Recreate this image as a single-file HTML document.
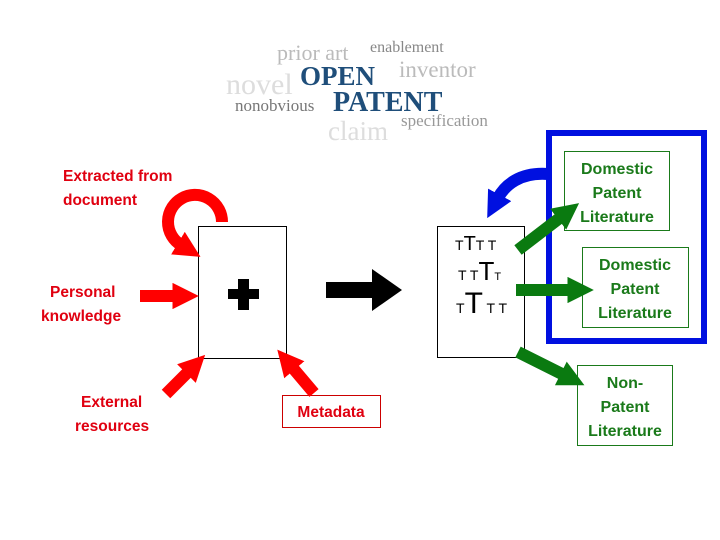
<!DOCTYPE html>
<html><head><style>body{margin:0;background:#fff}svg{display:block}</style></head><body>
<svg width="720" height="540" viewBox="0 0 720 540" xmlns="http://www.w3.org/2000/svg">
<defs>
<marker id="rh" markerWidth="2.2" markerHeight="2.2" refX="0.3" refY="1.1" orient="auto"><path d="M0,0L2.2,1.1L0,2.2z" fill="#f00"/></marker>
<marker id="gh" markerWidth="2.2" markerHeight="2.2" refX="0.3" refY="1.1" orient="auto"><path d="M0,0L2.2,1.1L0,2.2z" fill="#0a7a10"/></marker>
<marker id="bh" markerWidth="2.2" markerHeight="2.2" refX="0.3" refY="1.1" orient="auto"><path d="M0,0L2.2,1.1L0,2.2z" fill="#0010e0"/></marker>
</defs>
<g font-family="Liberation Serif, serif">
<text x="277" y="60" font-size="22" fill="#bbb">prior art</text>
<text x="370" y="52" font-size="16" fill="#888">enablement</text>
<text x="226" y="94" font-size="30" fill="#ddd">novel</text>
<text x="300" y="85" font-size="27" font-weight="bold" fill="#1f4e7a">OPEN</text>
<text x="399" y="77" font-size="23" fill="#bbb">inventor</text>
<text x="235" y="111" font-size="17" fill="#777">nonobvious</text>
<text x="333" y="111" font-size="28" font-weight="bold" fill="#1f4e7a">PATENT</text>
<text x="328" y="140" font-size="27" fill="#ddd">claim</text>
<text x="401" y="126" font-size="17" fill="#999">specification</text>
</g>
<rect x="198.5" y="226.5" width="88" height="132" fill="#fff" stroke="#000"/>
<rect x="437.5" y="226.5" width="87" height="131" fill="#fff" stroke="#000"/>
<rect x="549" y="133" width="155" height="208" fill="none" stroke="#0010e0" stroke-width="6"/>
<g fill="#fff" stroke="#1a7a1a">
<rect x="564.5" y="151.5" width="105" height="79"/>
<rect x="582.5" y="247.5" width="106" height="80"/>
<rect x="577.5" y="365.5" width="95" height="80"/>
<rect x="282.5" y="395.5" width="98" height="32" stroke="#c00"/>
</g>
<g font-family="Liberation Sans, sans-serif" font-weight="bold" font-size="16" fill="#1a7a1a" text-anchor="middle">
<text x="617" y="174">Domestic</text><text x="617" y="198">Patent</text><text x="617" y="222">Literature</text>
<text x="635" y="270">Domestic</text><text x="635" y="294">Patent</text><text x="635" y="318">Literature</text>
<text x="625" y="388">Non-</text><text x="625" y="412">Patent</text><text x="625" y="436">Literature</text>
</g>
<g font-family="Liberation Sans, sans-serif" font-size="15.5" font-weight="bold" fill="#e00010">
<text x="63" y="181">Extracted from</text><text x="63" y="205">document</text>
<text x="50" y="297">Personal</text><text x="41" y="321">knowledge</text>
<text x="81" y="407">External</text><text x="75" y="431">resources</text>
<text x="331" y="417" text-anchor="middle">Metadata</text>
</g>
<g font-family="Liberation Sans, sans-serif" fill="#000">
<text x="455" y="250" font-size="14">T<tspan font-size="20">T</tspan>T T</text>
<text x="458" y="280" font-size="14">T T<tspan font-size="26">T</tspan><tspan font-size="11">T</tspan></text>
<text x="456" y="313" font-size="14">T<tspan font-size="30">T</tspan> T T</text>
</g>
<rect x="228" y="289" width="31" height="10"/><rect x="238" y="279" width="11" height="31"/>
<path d="M326,282H372V269L402,290L372,311V298H326z" fill="#000"/>
<g fill="none" stroke-width="12">
<path d="M140,296H176" stroke="#f00" marker-end="url(#rh)"/>
<path d="M166,394L189,371" stroke="#f00" marker-end="url(#rh)"/>
<path d="M314,393L292,367" stroke="#f00" marker-end="url(#rh)"/>
<path d="M222,222A27,27 0 1 0 181,245" stroke="#f00" marker-end="url(#rh)"/>
<path d="M518,250L561,217" stroke="#0a7a10" marker-end="url(#gh)"/>
<path d="M516,290H571" stroke="#0a7a10" marker-end="url(#gh)"/>
<path d="M518,352L564,375" stroke="#0a7a10" marker-end="url(#gh)"/>
<path d="M548,174C520,172 505,185 498,198" stroke="#0010e0" marker-end="url(#bh)"/>
</g>
</svg>
</body></html>
